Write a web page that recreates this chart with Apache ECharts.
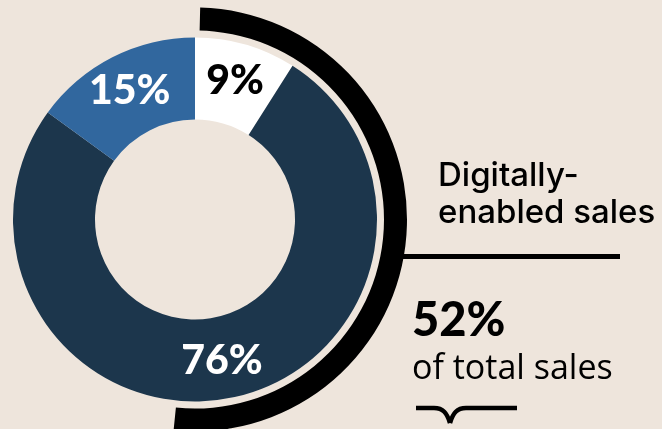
<!DOCTYPE html>
<html>
<head>
<meta charset="utf-8">
<script src="https://cdn.jsdelivr.net/npm/echarts@6/dist/echarts.min.js"></script>
<style>
  html, body { margin: 0; padding: 0; background: #eee5dc; }
  #chart { width: 662px; height: 429px; }
</style>
</head>
<body>
<div id="chart"></div>
<script>
// Sales split by channel (share of total sales, %)
const categories = ['Digital', 'In-store', 'Other'];
const shares = [9, 76, 15];
const sliceColors = ['#ffffff', '#1c364c', '#31679e'];
const labelColors = ['#000000', '#ffffff', '#ffffff'];

// Share of total sales that is digitally enabled (%)
const digitalShare = 52;

const title = ['Digitally-', 'enabled sales'];
const subtitle = 'of total sales';

const chart = echarts.init(document.getElementById('chart'), null, { renderer: 'canvas' });

const cx = 195, cy = 219.5;
const ink = { stroke: '#000000', lineWidth: 4.5, fill: null };

chart.setOption({
  backgroundColor: '#eee5dc',
  animation: false,
  series: [
    {
      type: 'pie',
      center: [cx, cy],
      radius: [100, 182],
      startAngle: 90,
      clockwise: true,
      silent: true,
      label: {
        show: true,
        position: 'inside',
        formatter: p => p.value + '%',
        fontFamily: 'Lato',
        fontWeight: 900,
        fontSize: 41
      },
      labelLine: { show: false },
      itemStyle: { borderWidth: 0 },
      data: categories.map((c, i) => ({
        name: c,
        value: shares[i],
        itemStyle: { color: sliceColors[i] },
        label: { color: labelColors[i] }
      }))
    },
    {
      // outer arc marking the digitally-enabled share
      type: 'pie',
      center: [cx, cy],
      radius: [189, 212],
      startAngle: 90,
      padAngle: 2.8,
      clockwise: true,
      silent: true,
      label: { show: false },
      labelLine: { show: false },
      data: [
        { name: 'Digitally-enabled', value: digitalShare, itemStyle: { color: '#000000' } },
        { name: 'Rest', value: 100 - digitalShare, itemStyle: { color: 'rgba(0,0,0,0)' } }
      ]
    }
  ],
  graphic: [
    {
      type: 'line',
      z: -1,
      shape: { x1: 400, y1: 256.5, x2: 620, y2: 256.5 },
      style: { stroke: '#000000', lineWidth: 5 }
    },
    {
      type: 'text',
      x: 438, y: 176,
      style: {
        text: title[0],
        font: '500 33px Inter',
        fill: '#000000',
        textAlign: 'left',
        textVerticalAlign: 'middle'
      }
    },
    {
      type: 'text',
      x: 438, y: 213,
      style: {
        text: title[1],
        font: '500 33px Inter',
        fill: '#000000',
        textAlign: 'left',
        textVerticalAlign: 'middle'
      }
    },
    {
      type: 'text',
      x: 412, y: 321,
      style: {
        text: digitalShare + '%',
        font: '900 47px Lato',
        fill: '#000000',
        textAlign: 'left',
        textVerticalAlign: 'middle'
      }
    },
    {
      type: 'text',
      x: 412, y: 369,
      style: {
        text: subtitle,
        font: '400 34px "Open Sans"',
        fill: '#000000',
        textAlign: 'left',
        textVerticalAlign: 'middle'
      }
    },
    // brace under the caption
    { type: 'line', shape: { x1: 416, y1: 408, x2: 434, y2: 408 }, style: ink },
    {
      type: 'bezierCurve',
      shape: { x1: 434, y1: 408, cpx1: 443, cpy1: 408, cpx2: 447, cpy2: 413, x2: 450, y2: 423 },
      style: ink
    },
    {
      type: 'bezierCurve',
      shape: { x1: 450, y1: 423, cpx1: 453, cpy1: 413, cpx2: 457, cpy2: 408, x2: 466, y2: 408 },
      style: ink
    },
    { type: 'line', shape: { x1: 466, y1: 408, x2: 517, y2: 408 }, style: ink }
  ]
});
</script>
</body>
</html>
